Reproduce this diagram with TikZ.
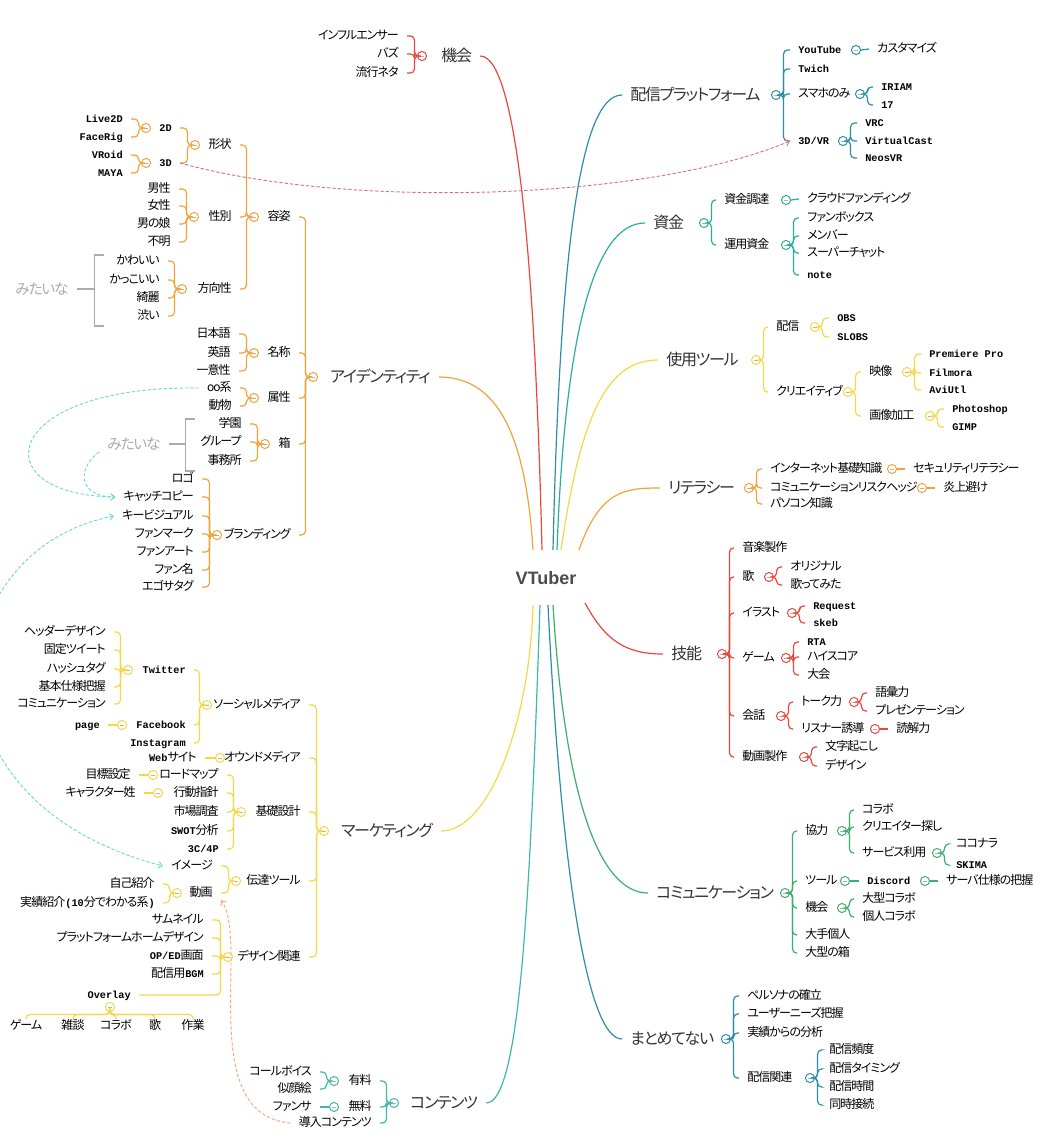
\documentclass[tikz,border=0pt]{standalone}
\usepackage{fontspec}
\usetikzlibrary{arrows.meta}
\setmainfont{Noto Sans CJK JP}[RawFeature=+palt, LetterSpace=-8]
\newfontfamily\monofont{Liberation Mono}
\newfontfamily\vtfont{Liberation Sans}
\newcommand{\en}[1]{{\monofont\bfseries\fontsize{7.7}{9}\selectfont #1}}
\definecolor{cred}{HTML}{E8483E}
\definecolor{corange}{HTML}{F2A43A}
\definecolor{cyellow}{HTML}{F6D845}
\definecolor{cteal}{HTML}{2E8EA6}
\definecolor{cgteal}{HTML}{2AAE9E}
\definecolor{ccyan}{HTML}{3DB9AE}
\definecolor{cgreen}{HTML}{3BAF6F}
\definecolor{lcyan}{HTML}{6FDAD6}
\definecolor{lred}{HTML}{D8737D}
\definecolor{lorange}{HTML}{F3A878}
\definecolor{cgray}{HTML}{ABABAB}

\begin{document}
\begin{tikzpicture}[x=0.75pt, y=-0.75pt,
  topic/.style={font=\fontsize{12}{14}\selectfont, text=black!80, inner xsep=6pt, inner ysep=1pt, text height=10pt, text depth=2pt},
  jr/.style={anchor=west, font=\fontsize{9}{11}\selectfont, inner xsep=6pt, inner ysep=1pt, text height=7pt, text depth=1.5pt},
  jl/.style={jr, anchor=east},
  jt/.style={jr, anchor=north},
  mitai/.style={font=\fontsize{11}{13}\selectfont, text=cgray, inner xsep=6pt, inner ysep=1pt},
  knob/.style={circle, draw=#1, fill=white, line width=0.75pt, minimum size=6.8pt, inner sep=0pt,
    path picture={\draw[black!30, line width=0.5pt] ([xshift=-1.6pt]path picture bounding box.center) -- ([xshift=1.6pt]path picture bounding box.center);}},
  brk/.style={draw=#1, line width=0.9pt, rounded corners=3pt},
  ramo/.style={draw=#1, line width=0.9pt},
  gbrk/.style={draw=cgray, line width=0.9pt},
  link/.style={draw=#1, line width=0.7pt, dash pattern=on 2.5pt off 1.5pt, -{Straight Barb[length=3pt, width=5pt]}}
]
% 背景
\fill[white] (0,0) rectangle (1062,1147);
\useasboundingbox (0,0) rectangle (1062,1147);

% 中心
\node[font=\vtfont\bfseries\fontsize{13.5}{16}\selectfont, text=black!70] (vt) at (546,578) {VTuber};
\coordinate (s-kikai) at (542,550);
\coordinate (s-ident) at (533,550);
\coordinate (s-mkt) at (533,605);
\coordinate (s-cont) at (540,605);
\coordinate (s-plat) at (553,550);
\coordinate (s-shikin) at (557,550);
\coordinate (s-tool) at (561,550);
\coordinate (s-lit) at (579,550);
\coordinate (s-ginou) at (585,603);
\coordinate (s-comm) at (553,605);
\coordinate (s-matome) at (548,605);

% 左: 機会
\node[topic, anchor=west] (kikai) at (433,56) {機会};
\node[knob=cred] (k-kikai) at (422,56) {};
\node[jl] (infl) at (407,36) {インフルエンサー};
\node[jl] (buzz) at (407,54) {バズ};
\node[jl] (ryuko) at (407,73) {流行ネタ};
\foreach \n in {infl,buzz,ryuko} \draw[brk=cred] (k-kikai.west) -- ++(-2.5,0) |- (\n.east);
\draw[ramo=cred] (s-kikai) .. controls (536,300) and (520,56) .. (kikai.east);

% 左: アイデンティティ
\node[topic, anchor=west] (ident) at (322,377) {アイデンティティ};
\node[knob=corange] (k-ident) at (313,377) {};
\node[jl] (yoshi) at (299,217) {容姿};
\node[jl] (meisho) at (299,353) {名称};
\node[jl] (zokusei) at (299,398) {属性};
\node[jl] (hako) at (299,444) {箱};
\node[jl] (brand) at (299,535) {ブランディング};
\foreach \n in {yoshi,meisho,zokusei,hako,brand} \draw[brk=corange] (k-ident.west) -- ++(-2.5,0) |- (\n.east);
\draw[ramo=corange] (s-ident) .. controls (525,420) and (490,377) .. (ident.east);

\node[knob=corange] (k-yoshi) at (254,217) {};
\node[jl] (keijo) at (240,145) {形状};
\node[jl] (seibetsu) at (240,217) {性別};
\node[jl] (hoko) at (240,289) {方向性};
\foreach \n in {keijo,seibetsu,hoko} \draw[brk=corange] (k-yoshi.west) -- ++(-2.5,0) |- (\n.east);

\node[knob=corange] (k-keijo) at (195,145) {};
\node[jl] (d2) at (180,128) {\en{2D}};
\node[jl] (d3) at (180,163) {\en{3D}};
\foreach \n in {d2,d3} \draw[brk=corange] (k-keijo.west) -- ++(-2.5,0) |- (\n.east);
\node[knob=corange] (k-d2) at (146,128) {};
\node[jl] (live2d) at (131,119) {\en{Live2D}};
\node[jl] (facerig) at (131,137) {\en{FaceRig}};
\foreach \n in {live2d,facerig} \draw[brk=corange] (k-d2.west) -- ++(-2.5,0) |- (\n.east);
\node[knob=corange] (k-d3) at (146,163) {};
\node[jl] (vroid) at (131,155) {\en{VRoid}};
\node[jl] (maya) at (131,173) {\en{MAYA}};
\foreach \n in {vroid,maya} \draw[brk=corange] (k-d3.west) -- ++(-2.5,0) |- (\n.east);

\node[knob=corange] (k-seibetsu) at (194,217) {};
\node[jl] (dansei) at (179,189) {男性};
\node[jl] (josei) at (179,206) {女性};
\node[jl] (otoko) at (179,224) {男の娘};
\node[jl] (fumei) at (179,242) {不明};
\foreach \n in {dansei,josei,otoko,fumei} \draw[brk=corange] (k-seibetsu.west) -- ++(-2.5,0) |- (\n.east);

\node[knob=corange] (k-hoko) at (182,289) {};
\node[jl] (kawaii) at (168,261) {かわいい};
\node[jl] (kakkoii) at (168,280) {かっこいい};
\node[jl] (kirei) at (168,298) {綺麗};
\node[jl] (shibui) at (168,316) {渋い};
\foreach \n in {kawaii,kakkoii,kirei,shibui} \draw[brk=corange] (k-hoko.west) -- ++(-2.5,0) |- (\n.east);
\node[mitai] (m1) at (42,289) {みたいな};
\draw[gbrk] (m1.east) -- ++(18,0) ++(9,-34) -- ++(-9,0) -- ++(0,71) -- ++(9,0);

\node[knob=corange] (k-meisho) at (254,353) {};
\node[jl] (nihongo) at (239,334) {日本語};
\node[jl] (eigo) at (239,353) {英語};
\node[jl] (ichii) at (239,371) {一意性};
\foreach \n in {nihongo,eigo,ichii} \draw[brk=corange] (k-meisho.west) -- ++(-2.5,0) |- (\n.east);

\node[knob=corange] (k-zokusei) at (254,398) {};
\node[jl] (oo) at (240,388) {oo系};
\node[jl] (dobutsu) at (240,406) {動物};
\foreach \n in {oo,dobutsu} \draw[brk=corange] (k-zokusei.west) -- ++(-2.5,0) |- (\n.east);

\node[knob=corange] (k-hako) at (265,444) {};
\node[jl] (gakuen) at (250,424) {学園};
\node[jl] (group) at (250,442) {グループ};
\node[jl] (jimusho) at (250,461) {事務所};
\foreach \n in {gakuen,group,jimusho} \draw[brk=corange] (k-hako.west) -- ++(-2.5,0) |- (\n.east);
\node[mitai] (m2) at (134,444) {みたいな};
\draw[gbrk] (m2.east) -- ++(17,0) ++(9,-25) -- ++(-9,0) -- ++(0,52) -- ++(9,0);

\node[knob=corange] (k-brand) at (217,535) {};
\node[jl] (logo) at (202,479) {ロゴ};
\node[jl] (catch) at (202,497) {キャッチコピー};
\node[jl] (kv) at (202,516) {キービジュアル};
\node[jl] (fanmark) at (202,534) {ファンマーク};
\node[jl] (fanart) at (202,552) {ファンアート};
\node[jl] (fanname) at (202,570) {ファン名};
\node[jl] (egosa) at (202,587) {エゴサタグ};
\foreach \n in {logo,catch,kv,fanmark,fanart,fanname,egosa} \draw[brk=corange] (k-brand.west) -- ++(-2.5,0) |- (\n.east);

% 左: マーケティング
\node[topic, anchor=west] (mkt) at (333,831) {マーケティング};
\node[knob=cyellow] (k-mkt) at (324,831) {};
\node[jl] (social) at (309,705) {ソーシャルメディア};
\node[jl] (owned) at (309,758) {オウンドメディア};
\node[jl] (kiso) at (309,812) {基礎設計};
\node[jl] (dentatsu) at (309,881) {伝達ツール};
\node[jl] (design) at (309,957) {デザイン関連};
\foreach \n in {social,owned,kiso,dentatsu,design} \draw[brk=cyellow] (k-mkt.west) -- ++(-2.5,0) |- (\n.east);
\draw[ramo=cyellow] (s-mkt) .. controls (530,720) and (490,831) .. (mkt.east);

\node[knob=cyellow] (k-social) at (207,705) {};
\node[jl] (twitter) at (194,670) {\en{Twitter}};
\node[jl] (facebook) at (194,725) {\en{Facebook}};
\node[jl] (insta) at (194,743) {\en{Instagram}};
\foreach \n in {twitter,facebook,insta} \draw[brk=cyellow] (k-social.west) -- ++(-2.5,0) |- (\n.east);
\node[knob=cyellow] (k-twitter) at (128,670) {};
\node[jl] (header) at (114,632) {ヘッダーデザイン};
\node[jl] (kotei) at (114,650) {固定ツイート};
\node[jl] (hash) at (114,669) {ハッシュタグ};
\node[jl] (shiyo) at (114,687) {基本仕様把握};
\node[jl] (comyu) at (114,704) {コミュニケーション};
\foreach \n in {header,kotei,hash,shiyo,comyu} \draw[brk=cyellow] (k-twitter.west) -- ++(-2.5,0) |- (\n.east);
\node[knob=cyellow] (k-facebook) at (122,725) {};
\node[jl] (page) at (108,725) {\en{page}};
\draw[ramo=cyellow] (page.east) -- (k-facebook.west);

\node[knob=cyellow] (k-owned) at (220,758) {};
\node[jl] (web) at (205,758) {\en{Web}サイト};
\draw[ramo=cyellow] (web.east) -- (k-owned.west);

\node[knob=cyellow] (k-kiso) at (241,812) {};
\node[jl] (roadmap) at (227,775) {ロードマップ};
\node[jl] (kodo) at (227,793) {行動指針};
\node[jl] (shijo) at (227,812) {市場調査};
\node[jl] (swot) at (227,831) {\en{SWOT}分析};
\node[jl] (c4p) at (227,849) {\en{3C/4P}};
\foreach \n in {roadmap,kodo,shijo,swot,c4p} \draw[brk=cyellow] (k-kiso.west) -- ++(-2.5,0) |- (\n.east);
\node[knob=cyellow] (k-roadmap) at (153,775) {};
\node[jl] (mokuhyo) at (139,775) {目標設定};
\draw[ramo=cyellow] (mokuhyo.east) -- (k-roadmap.west);
\node[knob=cyellow] (k-kodo) at (158,793) {};
\node[jl] (chara) at (144,793) {キャラクター姓};
\draw[ramo=cyellow] (chara.east) -- (k-kodo.west);

\node[knob=cyellow] (k-dentatsu) at (236,881) {};
\node[jl] (image) at (221,866) {イメージ};
\node[jl] (douga) at (221,893) {動画};
\foreach \n in {image,douga} \draw[brk=cyellow] (k-dentatsu.west) -- ++(-2.5,0) |- (\n.east);
\node[knob=cyellow] (k-douga) at (177,893) {};
\node[jl] (jiko) at (163,884) {自己紹介};
\node[jl] (jisseki) at (163,903) {実績紹介\en{(10}分でわかる系\en{)}};
\foreach \n in {jiko,jisseki} \draw[brk=cyellow] (k-douga.west) -- ++(-2.5,0) |- (\n.east);

\node[knob=cyellow] (k-design) at (228,957) {};
\node[jl] (samune) at (212,920) {サムネイル};
\node[jl] (pfhome) at (212,938) {プラットフォームホームデザイン};
\node[jl] (oped) at (212,956) {\en{OP/ED}画面};
\node[jl] (bgm) at (212,974) {配信用\en{BGM}};
\node[jl] (overlay) at (139,995) {\en{Overlay}};
\foreach \n in {samune,pfhome,oped,bgm,overlay} \draw[brk=cyellow] (k-design.west) -- ++(-2.5,0) |- (\n.east);
\node[knob=cyellow] (k-overlay) at (110,1007) {};
\node[jt] (ov-game) at (26,1019) {ゲーム};
\node[jt] (ov-zatsu) at (73,1019) {雑談};
\node[jt] (ov-collab) at (116,1019) {コラボ};
\node[jt] (ov-uta) at (155,1019) {歌};
\node[jt] (ov-sagyo) at (193,1019) {作業};
\foreach \n in {ov-game,ov-zatsu,ov-collab,ov-uta,ov-sagyo} \draw[brk=cyellow] (k-overlay.south) -- ++(0,2.5) -| (\n.north);

% 左: コンテンツ
\node[topic, anchor=west] (cont) at (402,1103) {コンテンツ};
\node[knob=ccyan] (k-cont) at (394,1103) {};
\node[jl] (yuryo) at (380,1081) {有料};
\node[jl] (muryo) at (380,1107) {無料};
\node[jl] (donyu) at (380,1123) {導入コンテンツ};
\foreach \n in {yuryo,muryo,donyu} \draw[brk=ccyan] (k-cont.west) -- ++(-2.5,0) |- (\n.east);
\draw[ramo=ccyan] (s-cont) .. controls (530,900) and (520,1103) .. (cont.east);
\node[knob=ccyan] (k-yuryo) at (334,1081) {};
\node[jl] (callvoice) at (320,1072) {コールボイス};
\node[jl] (nigaoe) at (320,1089) {似顔絵};
\foreach \n in {callvoice,nigaoe} \draw[brk=ccyan] (k-yuryo.west) -- ++(-2.5,0) |- (\n.east);
\node[knob=ccyan] (k-muryo) at (334,1107) {};
\node[jl] (fansa) at (320,1107) {ファンサ};
\draw[ramo=ccyan] (fansa.east) -- (k-muryo.west);

% 右: 配信プラットフォーム
\node[topic, anchor=west] (plat) at (622,95) {配信プラットフォーム};
\node[knob=cteal] (k-plat) at (776,95) {};
\node[jr] (youtube) at (790,50) {\en{YouTube}};
\node[jr] (twich) at (790,69) {\en{Twich}};
\node[jr] (sumaho) at (790,94) {スマホのみ};
\node[jr] (d3vr) at (790,141) {\en{3D/VR}};
\foreach \n in {youtube,twich,sumaho,d3vr} \draw[brk=cteal] (k-plat.east) -- ++(2.5,0) |- (\n.west);
\draw[ramo=cteal] (s-plat) .. controls (560,250) and (580,95) .. (plat.west);
\node[knob=cteal] (k-youtube) at (856,50) {};
\node[jr] (custom) at (869,49) {カスタマイズ};
\draw[ramo=cteal] (k-youtube.east) -- (custom.west);
\node[knob=cteal] (k-sumaho) at (860,94) {};
\node[jr] (iriam) at (873,87) {\en{IRIAM}};
\node[jr] (n17) at (873,105) {\en{17}};
\foreach \n in {iriam,n17} \draw[brk=cteal] (k-sumaho.east) -- ++(2.5,0) |- (\n.west);
\node[knob=cteal] (k-d3vr) at (843,141) {};
\node[jr] (vrc) at (857,123) {\en{VRC}};
\node[jr] (vcast) at (857,141) {\en{VirtualCast}};
\node[jr] (neos) at (857,158) {\en{NeosVR}};
\foreach \n in {vrc,vcast,neos} \draw[brk=cteal] (k-d3vr.east) -- ++(2.5,0) |- (\n.west);

% 右: 資金
\node[topic, anchor=west] (shikin) at (645,223) {資金};
\node[knob=cgteal] (k-shikin) at (704,223) {};
\node[jr] (chotatsu) at (716,200) {資金調達};
\node[jr] (unyo) at (716,245) {運用資金};
\foreach \n in {chotatsu,unyo} \draw[brk=cgteal] (k-shikin.east) -- ++(2.5,0) |- (\n.west);
\draw[ramo=cgteal] (s-shikin) .. controls (565,330) and (595,223) .. (shikin.west);
\node[knob=cgteal] (k-chotatsu) at (786,200) {};
\node[jr] (crowd) at (799,199) {クラウドファンディング};
\draw[ramo=cgteal] (k-chotatsu.east) -- (crowd.west);
\node[knob=cgteal] (k-unyo) at (786,245) {};
\node[jr] (fanbox) at (799,218) {ファンボックス};
\node[jr] (member) at (799,236) {メンバー};
\node[jr] (superchat) at (799,253) {スーパーチャット};
\node[jr] (note) at (799,275) {\en{note}};
\foreach \n in {fanbox,member,superchat,note} \draw[brk=cgteal] (k-unyo.east) -- ++(2.5,0) |- (\n.west);

% 右: 使用ツール
\node[topic, anchor=west] (tool) at (658,360) {使用ツール};
\node[knob=cyellow] (k-tool) at (756,360) {};
\node[jr] (haishin) at (768,327) {配信};
\node[jr] (creative) at (768,392) {クリエイティブ};
\foreach \n in {haishin,creative} \draw[brk=cyellow] (k-tool.east) -- ++(2.5,0) |- (\n.west);
\draw[ramo=cyellow] (s-tool) .. controls (580,420) and (605,360) .. (tool.west);
\node[knob=cyellow] (k-haishin) at (815,327) {};
\node[jr] (obs) at (829,318) {\en{OBS}};
\node[jr] (slobs) at (829,337) {\en{SLOBS}};
\foreach \n in {obs,slobs} \draw[brk=cyellow] (k-haishin.east) -- ++(2.5,0) |- (\n.west);
\node[knob=cyellow] (k-creative) at (848,392) {};
\node[jr] (eizo) at (861,372) {映像};
\node[jr] (gazo) at (861,416) {画像加工};
\foreach \n in {eizo,gazo} \draw[brk=cyellow] (k-creative.east) -- ++(2.5,0) |- (\n.west);
\node[knob=cyellow] (k-eizo) at (907,372) {};
\node[jr] (premiere) at (921,354) {\en{Premiere Pro}};
\node[jr] (filmora) at (921,373) {\en{Filmora}};
\node[jr] (aviutl) at (921,390) {\en{AviUtl}};
\foreach \n in {premiere,filmora,aviutl} \draw[brk=cyellow] (k-eizo.east) -- ++(2.5,0) |- (\n.west);
\node[knob=cyellow] (k-gazo) at (930,416) {};
\node[jr] (photoshop) at (944,409) {\en{Photoshop}};
\node[jr] (gimp) at (944,427) {\en{GIMP}};
\foreach \n in {photoshop,gimp} \draw[brk=cyellow] (k-gazo.east) -- ++(2.5,0) |- (\n.west);

% 右: リテラシー
\node[topic, anchor=west] (lit) at (660,488) {リテラシー};
\node[knob=corange] (k-lit) at (749,488) {};
\node[jr] (net) at (762,469) {インターネット基礎知識};
\node[jr] (risk) at (762,488) {コミュニケーションリスクヘッジ};
\node[jr] (pc) at (762,504) {パソコン知識};
\foreach \n in {net,risk,pc} \draw[brk=corange] (k-lit.east) -- ++(2.5,0) |- (\n.west);
\draw[ramo=corange] (s-lit) .. controls (600,490) and (625,488) .. (lit.west);
\node[knob=corange] (k-net) at (892,469) {};
\node[jr] (security) at (905,469) {セキュリティリテラシー};
\draw[ramo=corange] (k-net.east) -- (security.west);
\node[knob=corange] (k-risk) at (922,488) {};
\node[jr] (enjo) at (935,488) {炎上避け};
\draw[ramo=corange] (k-risk.east) -- (enjo.west);

% 右: 技能
\node[topic, anchor=west] (ginou) at (663,654) {技能};
\node[knob=cred] (k-ginou) at (722,654) {};
\node[jr] (ongaku) at (734,548) {音楽製作};
\node[jr] (uta) at (734,577) {歌};
\node[jr] (illust) at (734,613) {イラスト};
\node[jr] (game) at (734,658) {ゲーム};
\node[jr] (kaiwa) at (734,716) {会話};
\node[jr] (dogasei) at (734,757) {動画製作};
\foreach \n in {ongaku,uta,illust,game,kaiwa,dogasei} \draw[brk=cred] (k-ginou.east) -- ++(2.5,0) |- (\n.west);
\draw[ramo=cred] (s-ginou) .. controls (605,640) and (625,654) .. (ginou.west);
\node[knob=cred] (k-uta) at (769,577) {};
\node[jr] (original) at (782,567) {オリジナル};
\node[jr] (utatte) at (782,585) {歌ってみた};
\foreach \n in {original,utatte} \draw[brk=cred] (k-uta.east) -- ++(2.5,0) |- (\n.west);
\node[knob=cred] (k-illust) at (792,613) {};
\node[jr] (request) at (805,606) {\en{Request}};
\node[jr] (skeb) at (805,623) {\en{skeb}};
\foreach \n in {request,skeb} \draw[brk=cred] (k-illust.east) -- ++(2.5,0) |- (\n.west);
\node[knob=cred] (k-game) at (786,658) {};
\node[jr] (rta) at (799,642) {\en{RTA}};
\node[jr] (hiscore) at (799,657) {ハイスコア};
\node[jr] (taikai) at (799,675) {大会};
\foreach \n in {rta,hiscore,taikai} \draw[brk=cred] (k-game.east) -- ++(2.5,0) |- (\n.west);
\node[knob=cred] (k-kaiwa) at (781,716) {};
\node[jr] (talk) at (793,702) {トーク力};
\node[jr] (listener) at (793,729) {リスナー誘導};
\foreach \n in {talk,listener} \draw[brk=cred] (k-kaiwa.east) -- ++(2.5,0) |- (\n.west);
\node[knob=cred] (k-talk) at (854,702) {};
\node[jr] (goi) at (867,693) {語彙力};
\node[jr] (presen) at (867,711) {プレゼンテーション};
\foreach \n in {goi,presen} \draw[brk=cred] (k-talk.east) -- ++(2.5,0) |- (\n.west);
\node[knob=cred] (k-listener) at (875,729) {};
\node[jr] (dokkai) at (888,729) {読解力};
\draw[ramo=cred] (k-listener.east) -- (dokkai.west);
\node[knob=cred] (k-dogasei) at (804,757) {};
\node[jr] (mojiokoshi) at (817,747) {文字起こし};
\node[jr] (dezain) at (817,766) {デザイン};
\foreach \n in {mojiokoshi,dezain} \draw[brk=cred] (k-dogasei.east) -- ++(2.5,0) |- (\n.west);

% 右: コミュニケーション
\node[topic, anchor=west] (comm) at (648,893) {コミュニケーション};
\node[knob=cgreen] (k-comm) at (785,893) {};
\node[jr] (kyoryoku) at (797,831) {協力};
\node[jr] (tsuru) at (797,881) {ツール};
\node[jr] (kikai2) at (797,908) {機会};
\node[jr] (ote) at (797,935) {大手個人};
\node[jr] (ogatabox) at (797,953) {大型の箱};
\foreach \n in {kyoryoku,tsuru,kikai2,ote,ogatabox} \draw[brk=cgreen] (k-comm.east) -- ++(2.5,0) |- (\n.west);
\draw[ramo=cgreen] (s-comm) .. controls (565,800) and (600,893) .. (comm.west);
\node[knob=cgreen] (k-kyoryoku) at (842,831) {};
\node[jr] (collab) at (854,810) {コラボ};
\node[jr] (creator) at (854,827) {クリエイター探し};
\node[jr] (service) at (854,853) {サービス利用};
\foreach \n in {collab,creator,service} \draw[brk=cgreen] (k-kyoryoku.east) -- ++(2.5,0) |- (\n.west);
\node[knob=cgreen] (k-service) at (937,853) {};
\node[jr] (coconala) at (948,844) {ココナラ};
\node[jr] (skima) at (948,865) {\en{SKIMA}};
\foreach \n in {coconala,skima} \draw[brk=cgreen] (k-service.east) -- ++(2.5,0) |- (\n.west);
\node[knob=cgreen] (k-tsuru) at (845,881) {};
\node[jr] (discord) at (859,881) {\en{Discord}};
\draw[ramo=cgreen] (k-tsuru.east) -- (discord.west);
\node[knob=cgreen] (k-discord) at (925,881) {};
\node[jr] (server) at (938,881) {サーバ仕様の把握};
\draw[ramo=cgreen] (k-discord.east) -- (server.west);
\node[knob=cgreen] (k-kikai2) at (842,908) {};
\node[jr] (ogatacollab) at (854,899) {大型コラボ};
\node[jr] (kojincollab) at (854,917) {個人コラボ};
\foreach \n in {ogatacollab,kojincollab} \draw[brk=cgreen] (k-kikai2.east) -- ++(2.5,0) |- (\n.west);

% 右: まとめてない
\node[topic, anchor=west] (matome) at (622,1039) {まとめてない};
\node[knob=cteal] (k-matome) at (726,1039) {};
\node[jr] (persona) at (739,996) {ペルソナの確立};
\node[jr] (needs) at (739,1014) {ユーザーニーズ把握};
\node[jr] (bunseki) at (739,1033) {実績からの分析};
\node[jr] (kanren) at (739,1078) {配信関連};
\foreach \n in {persona,needs,bunseki,kanren} \draw[brk=cteal] (k-matome.east) -- ++(2.5,0) |- (\n.west);
\draw[ramo=cteal] (s-matome) .. controls (560,850) and (585,1039) .. (matome.west);
\node[knob=cteal] (k-kanren) at (810,1078) {};
\node[jr] (hindo) at (821,1050) {配信頻度};
\node[jr] (timing) at (821,1069) {配信タイミング};
\node[jr] (jikan) at (821,1087) {配信時間};
\node[jr] (doji) at (821,1105) {同時接続};
\foreach \n in {hindo,timing,jikan,doji} \draw[brk=cteal] (k-kanren.east) -- ++(2.5,0) |- (\n.west);

% 関連線
\draw[link=lred] (d3.east) .. controls (350,210) and (650,200) .. (d3vr.west);
\draw[link=lcyan] (oo.west) .. controls (0,385) and (-20,495) .. (catch.west);
\draw[link=lcyan] (m2.south west) .. controls (75,470) and (80,497) .. (catch.west);
\draw[link=lcyan, {Straight Barb[length=3pt, width=5pt]}-{Straight Barb[length=3pt, width=5pt]}] (kv.west) .. controls (-60,550) and (-90,800) .. (image.west);
\draw[link=lorange] (donyu.west) .. controls (195,1115) and (250,940) .. (douga.south east);
\end{tikzpicture}
\end{document}
